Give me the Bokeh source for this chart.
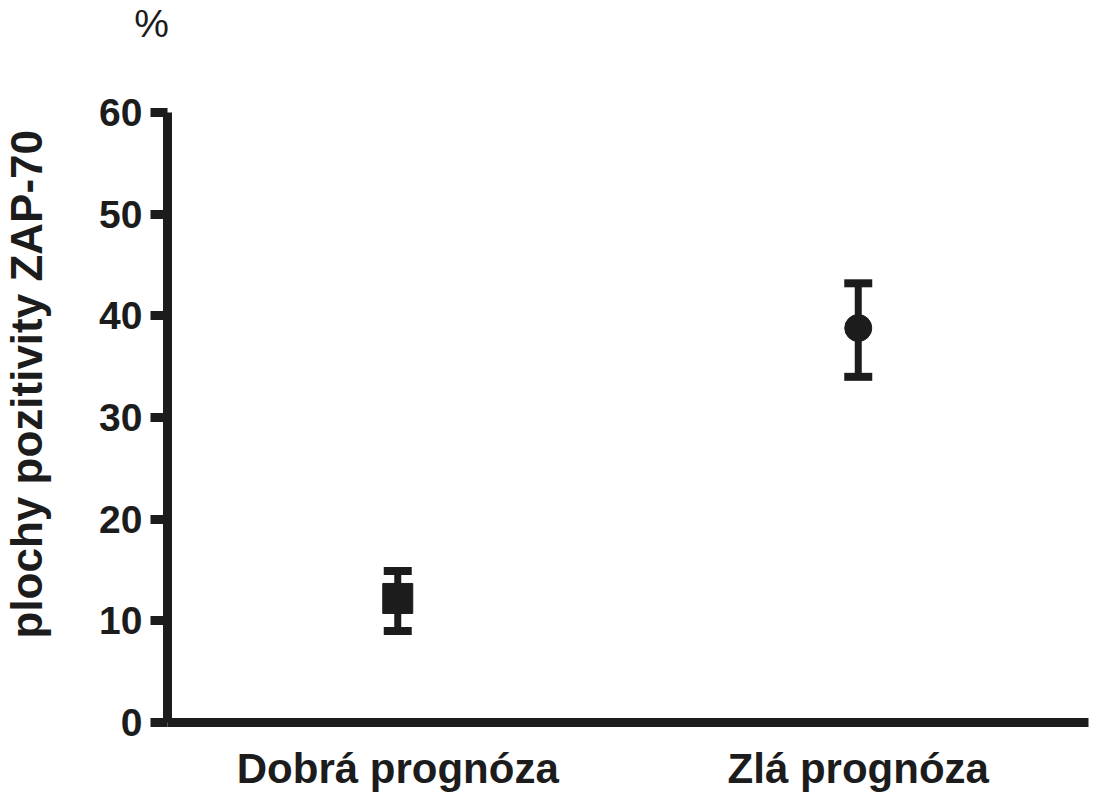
import math
from bokeh.plotting import figure
from bokeh.models import (ColumnDataSource, FactorRange, Range1d, FixedTicker,
                          Whisker, TeeHead, Label)
from bokeh.embed import file_html
from bokeh.resources import INLINE

# ---- data ----
categories = ["Dobrá prognóza", "Zlá prognóza"]
means = [12.2, 38.8]
lower = [9.0, 34.0]
upper = [14.9, 43.2]
markers = ["square", "circle"]
marker_sizes = [30, 27]
y_ticks = [0, 10, 20, 30, 40, 50, 60]
y_label = "plochy pozitivity ZAP-70"
unit_label = "%"

INK = "#1c1c1c"
FONT = "Liberation Sans"

src = ColumnDataSource(dict(cat=categories, mean=means, lower=lower,
                            upper=upper, marker=markers, size=marker_sizes))

p = figure(width=1092, height=796, output_backend="svg", toolbar_location=None,
           title=None,
           x_range=FactorRange(factors=categories), y_range=Range1d(0, 60),
           min_border_left=167, min_border_right=4, min_border_top=112,
           min_border_bottom=74, outline_line_color=None,
           background_fill_color="white", border_fill_color="white")

p.xgrid.visible = False
p.ygrid.visible = False

# texts outside the frame, kept in side panels on the left
p.add_layout(Label(x=90, y=699, x_units="screen", y_units="screen",
                   text=unit_label, text_align="center",
                   text_baseline="alphabetic", text_font=FONT,
                   text_font_size="39px", text_color=INK), "left")

p.add_layout(Label(x=14, y=84, x_units="screen", y_units="screen",
                   text=y_label, angle=math.pi / 2, text_align="left",
                   text_baseline="middle", text_font=FONT,
                   text_font_size="44px", text_font_style="bold",
                   text_color=INK), "left")

# y axis
ya = p.yaxis[0]
ya.ticker = FixedTicker(ticks=y_ticks, minor_ticks=[])
ya.axis_line_width = 9
ya.axis_line_color = INK
ya.major_tick_line_width = 9
ya.major_tick_line_color = INK
ya.major_tick_out = 17
ya.major_tick_in = 0
ya.minor_tick_line_color = None
ya.major_label_standoff = 8
ya.major_label_text_font = FONT
ya.major_label_text_font_size = "39px"
ya.major_label_text_font_style = "bold"
ya.major_label_text_color = INK

# x axis
xa = p.xaxis[0]
xa.axis_line_width = 9
xa.axis_line_color = INK
xa.major_tick_line_color = None
xa.major_tick_out = 0
xa.major_tick_in = 0
xa.minor_tick_line_color = None
xa.major_label_standoff = 22
xa.major_label_text_font = FONT
xa.major_label_text_font_size = "42px"
xa.major_label_text_font_style = "bold"
xa.major_label_text_color = INK

# error bars
w = Whisker(source=src, base="cat", lower="lower", upper="upper",
            dimension="height", line_color=INK, line_width=7,
            upper_head=TeeHead(size=28, line_width=8, line_color=INK),
            lower_head=TeeHead(size=28, line_width=8, line_color=INK))
p.add_layout(w)

# mean markers
p.scatter(x="cat", y="mean", source=src, marker="marker", size="size",
          fill_color=INK, line_color=INK, line_width=1)

open("out.html", "w").write(file_html(p, INLINE))
